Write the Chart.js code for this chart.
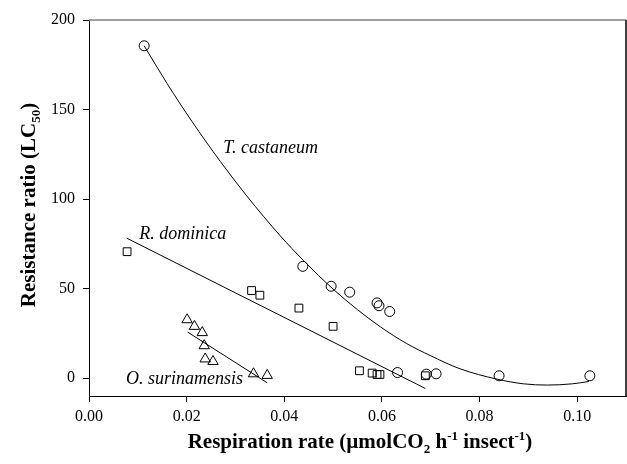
<!DOCTYPE html>
<html>
<head>
<meta charset="utf-8">
<script src="https://cdn.jsdelivr.net/npm/chart.js@4.4.1/dist/chart.umd.min.js"></script>
<style>
  html, body { margin: 0; padding: 0; background: #fff; }
  #wrap { width: 627px; height: 464px; }
</style>
</head>
<body>
<div id="wrap"><canvas id="chart" width="627" height="464"></canvas></div>
<script>
const tcX = [0.0113, 0.0438, 0.0496, 0.0534, 0.0590, 0.0594, 0.0616, 0.0632, 0.0691, 0.0711, 0.0840, 0.1026];
const tcY = [185.6, 62.4, 51.3, 48.0, 42.0, 40.4, 37.2, 3.1, 2.2, 2.4, 1.3, 1.3];
const rdX = [0.0078, 0.0333, 0.0350, 0.0430, 0.0500, 0.0554, 0.0580, 0.0590, 0.0596, 0.0689];
const rdY = [70.6, 48.9, 46.3, 39.1, 28.9, 4.1, 2.8, 2.0, 2.0, 1.3];
const osX = [0.0201, 0.0216, 0.0232, 0.0236, 0.0238, 0.0254, 0.0337, 0.0365];
const osY = [32.6, 28.9, 25.4, 18.1, 10.7, 9.3, 2.4, 1.5];

// fitted lines
const tcFitX = [0.0113, 0.0160, 0.0211, 0.0269, 0.0323, 0.0392, 0.0440, 0.0500, 0.0550, 0.0597, 0.0650, 0.0699, 0.0760, 0.0836, 0.0890, 0.0939, 0.0990, 0.1024];
const tcFitY = [185.6, 164.5, 143.3, 121, 101.8, 79.4, 65.5, 49.7, 38.2, 28.6, 19.4, 12.6, 5.2, -0.6, -3.2, -3.9, -3.2, -1.9];
const rdFitX = [0.0077, 0.0689];
const rdFitY = [78.2, -5.8];
const osFitX = [0.0202, 0.0365];
const osFitY = [25.7, -2.6];

const xTicks = [0, 0.02, 0.04, 0.06, 0.08, 0.10];
const yTicks = [0, 50, 100, 150, 200];

// species names and where they sit (data units)
const speciesNames = ['T. castaneum', 'R. dominica', 'O. surinamensis'];
const speciesAt = [[0.0275, 128.5], [0.0103, 80.4], [0.0076, -0.5]];

const pts = (xs, ys) => xs.map((x, i) => ({ x: x, y: ys[i] }));
const serif = '"Liberation Serif", "Times New Roman", serif';

function marks(data, style, r) {
  return {
    data: data, showLine: false, pointStyle: style, pointRadius: r, pointHoverRadius: r,
    pointBackgroundColor: 'rgba(255,255,255,0)', pointBorderColor: '#000', pointBorderWidth: 1
  };
}
function fit(data, smooth) {
  return {
    data: data, showLine: true, pointRadius: 0, borderColor: '#000', borderWidth: 1,
    cubicInterpolationMode: smooth ? 'monotone' : 'default', tension: 0
  };
}

// text with sub/superscripts
function richText(ctx, parts, size) {
  const fontOf = p => 'bold ' + (p[1] ? Math.round(size * 0.62) : size) + 'px ' + serif;
  let w = 0;
  parts.forEach(p => { ctx.font = fontOf(p); w += ctx.measureText(p[0]).width; });
  let x = -w / 2;
  parts.forEach(p => {
    ctx.font = fontOf(p);
    let dy = 0;
    if (p[1] === 'sub') dy = size * 0.25;
    if (p[1] === 'sup') dy = -size * 0.38;
    ctx.fillText(p[0], x, dy);
    x += ctx.measureText(p[0]).width;
  });
}

const extras = {
  id: 'extras',
  afterDraw(chart) {
    const ctx = chart.ctx, a = chart.chartArea;
    const xs = chart.scales.x, ys = chart.scales.y;
    ctx.save();
    // frame: top and right
    ctx.strokeStyle = '#808080';
    ctx.lineWidth = 1.5;
    ctx.beginPath(); ctx.moveTo(a.left, a.top); ctx.lineTo(a.right, a.top); ctx.stroke();
    ctx.strokeStyle = '#000';
    ctx.beginPath(); ctx.moveTo(a.right, a.top); ctx.lineTo(a.right, a.bottom); ctx.stroke();

    // species labels
    ctx.fillStyle = '#000';
    ctx.font = 'italic 18px ' + serif;
    ctx.textBaseline = 'middle';
    ctx.textAlign = 'left';
    speciesNames.forEach((n, i) => {
      ctx.fillText(n, xs.getPixelForValue(speciesAt[i][0]), ys.getPixelForValue(speciesAt[i][1]));
    });

    // axis titles
    ctx.textBaseline = 'alphabetic';
    ctx.save();
    ctx.translate(360, 448);
    richText(ctx, [['Respiration rate (\u00b5molCO'], ['2', 'sub'], [' h'], ['-1', 'sup'], [' insect'], ['-1', 'sup'], [')']], 21);
    ctx.restore();
    ctx.save();
    ctx.translate(35, 205);
    ctx.rotate(-Math.PI / 2);
    richText(ctx, [['Resistance ratio (LC'], ['50', 'sub'], [')']], 21);
    ctx.restore();
    ctx.restore();
  }
};

new Chart(document.getElementById('chart'), {
  type: 'scatter',
  data: {
    datasets: [
      fit(pts(tcFitX, tcFitY), true),
      fit(pts(rdFitX, rdFitY), false),
      fit(pts(osFitX, osFitY), false),
      marks(pts(tcX, tcY), 'circle', 5),
      marks(pts(rdX, rdY), 'rect', 5.5),
      marks(pts(osX, osY), 'triangle', 6)
    ]
  },
  options: {
    responsive: false,
    animation: false,
    layout: { autoPadding: false, padding: { top: 20, right: 1, left: 0, bottom: 0 } },
    plugins: { legend: { display: false }, tooltip: { enabled: false } },
    scales: {
      x: {
        type: 'linear', min: 0, max: 0.11,
        afterBuildTicks: s => { s.ticks = xTicks.map(v => ({ value: v })); },
        afterFit: s => { s.height = 68; s.paddingLeft = 0; s.paddingRight = 0; },
        border: { display: true, color: '#000', width: 1 },
        grid: { display: true, drawOnChartArea: false, drawTicks: true, tickLength: 6, tickColor: '#000' },
        ticks: {
          color: '#000', padding: 5, maxRotation: 0,
          font: { family: serif, size: 16 },
          callback: v => v.toFixed(2)
        }
      },
      y: {
        type: 'linear', min: -10, max: 200,
        afterBuildTicks: s => { s.ticks = yTicks.map(v => ({ value: v })); },
        afterFit: s => { s.width = 89; s.paddingTop = 0; s.paddingBottom = 0; },
        border: { display: true, color: '#000', width: 1 },
        grid: { display: true, drawOnChartArea: false, drawTicks: true, tickLength: 6, tickColor: '#000' },
        ticks: {
          color: '#000', padding: 8,
          font: { family: serif, size: 16 }
        }
      }
    }
  },
  plugins: [extras]
});
</script>
</body>
</html>
